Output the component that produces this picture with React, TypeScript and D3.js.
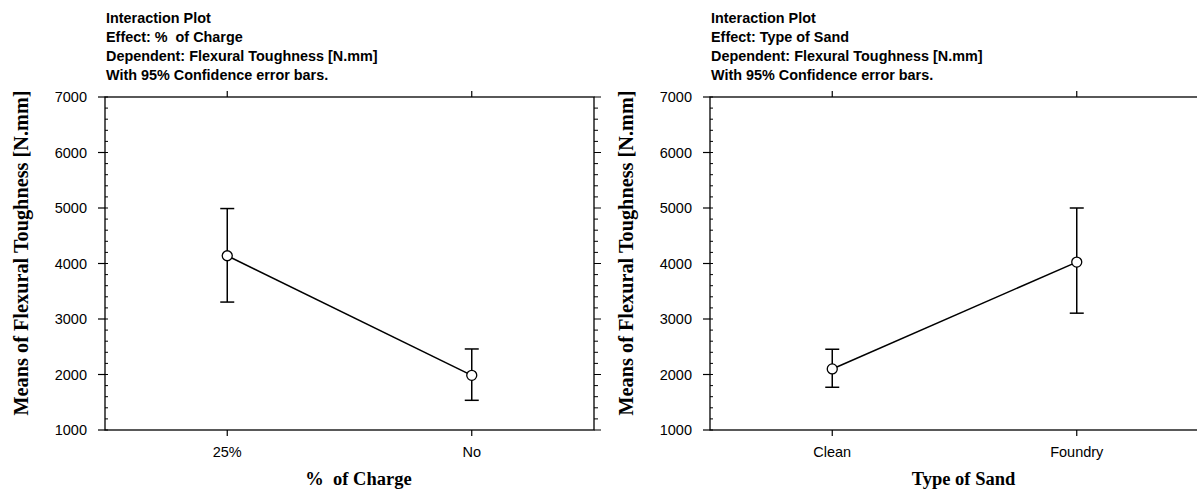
import React from "react";
import * as d3 from "d3";

const titleLinesLeft = ["Interaction Plot", "Effect: %  of Charge", "Dependent: Flexural Toughness [N.mm]", "With 95% Confidence error bars."];
const titleLinesRight = ["Interaction Plot", "Effect: Type of Sand", "Dependent: Flexural Toughness [N.mm]", "With 95% Confidence error bars."];

const chargeCategories = ["25%", "No"];
const chargeMeans = [4140, 1985];
const chargeUpper = [4990, 2460];
const chargeLower = [3305, 1535];

const sandCategories = ["Clean", "Foundry"];
const sandMeans = [2100, 4025];
const sandUpper = [2455, 5000];
const sandLower = [1770, 3105];

const yTicks = [1000, 2000, 3000, 4000, 5000, 6000, 7000];
const yMinorTicks = d3.range(1000, 7001, 200);

const yLabel = "Means of Flexural Toughness [N.mm]";

interface PanelProps {
  left: number;
  titleLines: string[];
  categories: string[];
  means: number[];
  upper: number[];
  lower: number[];
  xLabel: string;
}

const TOP = 97;
const BOTTOM = 430;
const WIDTH = 489;

function Panel({ left, titleLines, categories, means, upper, lower, xLabel }: PanelProps) {
  const right = left + WIDTH;
  const x = d3.scaleBand<string>().domain(categories).range([left, right]);
  const y = d3.scaleLinear().domain([1000, 7000]).range([BOTTOM, TOP]);
  const cx = (c: string) => (x(c) as number) + x.bandwidth() / 2;
  const line = d3
    .line<number>()
    .x((_, i) => cx(categories[i]))
    .y((d) => y(d));
  const sans = "Liberation Sans, Arial, sans-serif";
  const serif = "Liberation Serif, Times New Roman, serif";
  return (
    <g>
      {titleLines.map((t, i) => (
        <text
          key={i}
          x={left + 1}
          y={23 + i * 19}
          fontFamily={sans}
          fontWeight="bold"
          fontSize={14.4}
          fill="#000"
          style={{ whiteSpace: "pre" }}
        >
          {t}
        </text>
      ))}
      {/* frame */}
      <rect x={left} y={TOP} width={WIDTH} height={BOTTOM - TOP} fill="none" stroke="#000" strokeWidth={1.3} />
      {/* left axis ticks */}
      {yTicks.map((t) => (
        <g key={t}>
          <line x1={left - 7} x2={left} y1={y(t)} y2={y(t)} stroke="#000" strokeWidth={1.2} />
          <text x={left - 18} y={y(t)} dy="0.35em" textAnchor="end" fontFamily={sans} fontSize={14.5} fill="#000">
            {t}
          </text>
        </g>
      ))}
      {yMinorTicks.map((t) => (
        <line key={"m" + t} x1={left} x2={left + 3} y1={y(t)} y2={y(t)} stroke="#000" strokeWidth={1} />
      ))}
      {/* right axis ticks */}
      {yMinorTicks.map((t) => (
        <line
          key={"r" + t}
          x1={right}
          x2={right + (t % 1000 === 0 ? 7 : 4)}
          y1={y(t)}
          y2={y(t)}
          stroke="#000"
          strokeWidth={1}
        />
      ))}
      {/* category ticks */}
      {categories.map((c) => (
        <g key={c}>
          <line x1={cx(c)} x2={cx(c)} y1={BOTTOM} y2={BOTTOM + 6} stroke="#000" strokeWidth={1.2} />
          <line x1={cx(c)} x2={cx(c)} y1={TOP} y2={TOP - 6} stroke="#000" strokeWidth={1.2} />
          <text x={cx(c)} y={457} textAnchor="middle" fontFamily={sans} fontSize={14.5} fill="#000">
            {c}
          </text>
        </g>
      ))}
      {/* x label */}
      <text
        x={left + WIDTH / 2 + 9}
        y={485}
        textAnchor="middle"
        fontFamily={serif}
        fontWeight="bold"
        fontSize={18.5}
        fill="#000"
        style={{ whiteSpace: "pre" }}
      >
        {xLabel}
      </text>
      {/* y label */}
      <text
        transform={`translate(${left - 77},${253}) rotate(-90)`}
        textAnchor="middle"
        fontFamily={serif}
        fontWeight="bold"
        fontSize={20.3}
        fill="#000"
      >
        {yLabel}
      </text>
      {/* error bars */}
      {categories.map((c, i) => (
        <g key={"e" + c} stroke="#000" strokeWidth={1.5}>
          <line x1={cx(c)} x2={cx(c)} y1={y(upper[i])} y2={y(lower[i])} />
          <line x1={cx(c) - 7} x2={cx(c) + 7} y1={y(upper[i])} y2={y(upper[i])} />
          <line x1={cx(c) - 7} x2={cx(c) + 7} y1={y(lower[i])} y2={y(lower[i])} />
        </g>
      ))}
      <path d={line(means) as string} fill="none" stroke="#000" strokeWidth={1.5} />
      {categories.map((c, i) => (
        <circle key={"p" + c} cx={cx(c)} cy={y(means[i])} r={5} fill="#fff" stroke="#000" strokeWidth={1.3} />
      ))}
    </g>
  );
}

export default function App() {
  return (
    <svg
      width={1197}
      height={493}
      style={{ position: "absolute", left: 0, top: 0, background: "#fff" }}
    >
      <rect x={0} y={0} width={1197} height={493} fill="#fff" />
      <Panel
        left={105}
        titleLines={titleLinesLeft}
        categories={chargeCategories}
        means={chargeMeans}
        upper={chargeUpper}
        lower={chargeLower}
        xLabel={"%  of Charge"}
      />
      <Panel
        left={710}
        titleLines={titleLinesRight}
        categories={sandCategories}
        means={sandMeans}
        upper={sandUpper}
        lower={sandLower}
        xLabel={"Type of Sand"}
      />
    </svg>
  );
}
